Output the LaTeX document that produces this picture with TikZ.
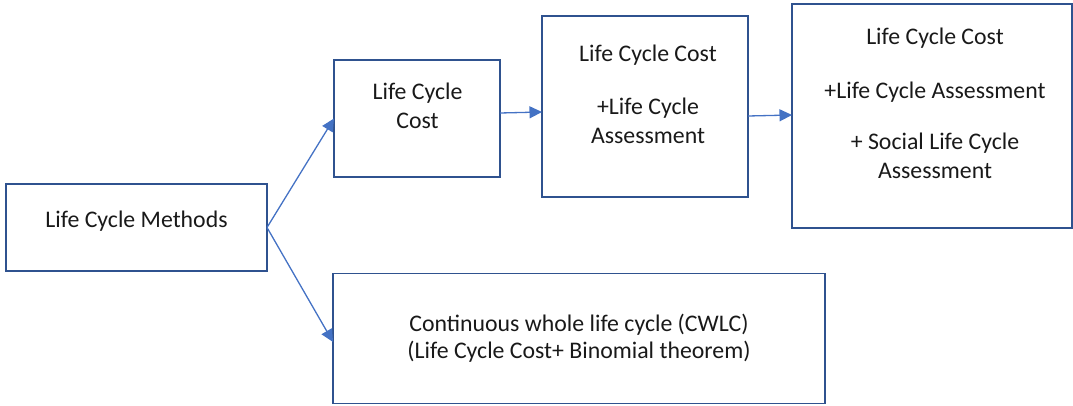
\documentclass[tikz,border=0pt]{standalone}
\usepackage{fontspec}
\setmainfont{Carlito}
\usetikzlibrary{arrows.meta}
\definecolor{boxline}{HTML}{2F528F}
\definecolor{arrowline}{HTML}{4472C4}
\begin{document}
\begin{tikzpicture}[x=1pt,y=-1pt,
  box/.style 2 args={draw=boxline, line width=1.2pt, inner sep=0pt, outer sep=0pt, minimum width=#1, minimum height=#2},
  txt/.style={align=center, inner sep=0pt, text=black!90, font=\fontsize{23.8}{28.5}\selectfont},
  conn/.style={draw=arrowline, line width=1.3pt, -{Triangle[length=12.5pt,width=12pt]}}]
\useasboundingbox (0,0) rectangle (1073,406);
\node[box={261pt}{87pt}] (A) at (136.5,227.5) {};
\node[box={166pt}{117pt}] (B) at (417,118.5) {};
\node[box={206pt}{181pt}] (C) at (645,106.5) {};
\node[box={280pt}{224pt}] (D) at (932,116) {};
\node[box={492pt}{130pt}] (E) at (579,338.5) {};
\node[txt] (tA) at (136.5,221.3) {\strut Life Cycle Methods};
\node[txt] (tB) at (417.5,108.5) {\strut Life Cycle\\\strut Cost};
\node[txt] (tC) at (648,96.7) {\strut Life Cycle Cost\\[24.8pt]\strut +Life Cycle\\\strut Assessment};
\node[txt] (tD) at (935,106) {\strut Life Cycle Cost\\[24.8pt]\strut +Life Cycle Assessment\\[23.2pt]\strut + Social Life Cycle\\\strut Assessment};
\node[txt, font=\fontsize{23.8}{27}\selectfont] (tE) at (579,339.6) {\strut Continuous whole life cycle (CWLC)\\\strut (Life Cycle Cost+ Binomial theorem)};
\draw[conn] (A.east) -- (B.west);
\draw[conn] (A.east) -- ([yshift=-3.5pt]E.west);
\draw[conn] ([yshift=5.5pt]B.east) -- ([yshift=-5.5pt]C.west);
\draw[conn] ([yshift=-9.5pt]C.east) -- ([yshift=1pt]D.west);
\end{tikzpicture}
\end{document}
